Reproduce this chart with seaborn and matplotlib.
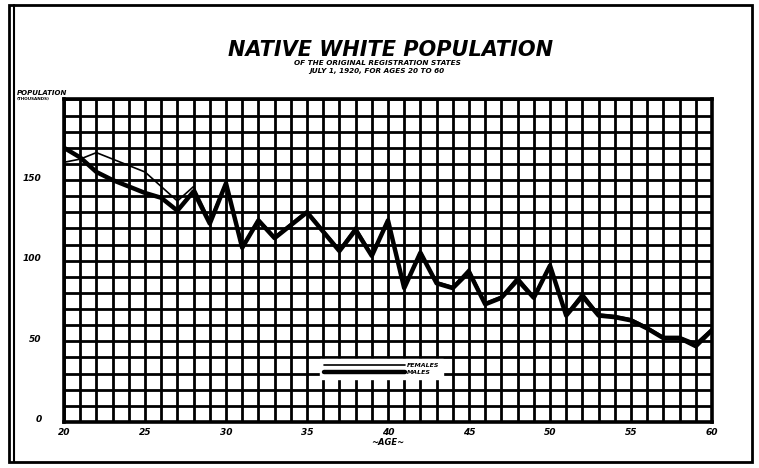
import numpy as np
import pandas as pd
import matplotlib
matplotlib.use("Agg")
import matplotlib.pyplot as plt
import matplotlib.transforms as mtransforms
import seaborn as sns
from matplotlib.patches import Rectangle
from matplotlib.lines import Line2D

# population in thousands, by single year of age
ages = list(range(20, 61))
males = [170, 164, 155, 150, 146, 142, 139, 131, 143, 123,
         148, 108, 125, 114, 122, 130, 118, 106, 119, 103,
         125, 83, 105, 86, 83, 93, 73, 77, 88, 77,
         97, 66, 78, 66, 65, 63, 58, 52, 52, 47, 57]
females = [161, 163, 167, 163, 159, 155, 146, 137, 146, 125,
           149, 109, 126, 115, 123, 131, 119, 107, 121, 104,
           126, 84, 106, 87, 84, 95, 74, 78, 90, 78,
           98, 67, 80, 67, 66, 64, 59, 53, 53, 49, 58]
y_labels = [0, 50, 100, 150]
x_labels = [20, 25, 30, 35, 40, 45, 50, 55, 60]

df = pd.DataFrame({"age": ages, "MALES": males, "FEMALES": females})

sns.set_style("white")
plt.rcParams["font.family"] = ["DejaVu Sans"]
plt.rcParams["text.color"] = "black"
plt.rcParams["axes.labelcolor"] = "black"
plt.rcParams["xtick.color"] = "black"
plt.rcParams["ytick.color"] = "black"

fig = plt.figure(figsize=(7.59, 4.68), dpi=100)
ax = fig.add_axes([64 / 759, 1 - 422 / 468, 648 / 759, 322.6 / 468])

sns.lineplot(data=df, x="age", y="MALES", ax=ax, color="black", linewidth=3.2)
sns.lineplot(data=df, x="age", y="FEMALES", ax=ax, color="black", linewidth=1.2)

ax.set_xlim(20, 60)
ax.set_ylim(0, 200)
ax.set_xticks(x_labels)
ax.set_xticks(np.arange(20, 61, 1), minor=True)
ax.set_yticks(y_labels)
ax.set_yticks(np.arange(0, 201, 10), minor=True)
ax.grid(which="both", color="black", linewidth=2.0)
ax.set_axisbelow(True)
for s in ax.spines.values():
    s.set_linewidth(2.6)
    s.set_color("black")
ax.tick_params(which="both", length=0)
ax.tick_params(axis="y", pad=16)
ax.tick_params(axis="x", pad=4)
ax.set_xticklabels([str(v) for v in x_labels], fontsize=6.5,
                   fontweight="bold", style="italic")
ax.set_yticklabels([str(v) for v in y_labels], fontsize=6.5,
                   fontweight="bold", style="italic")
# hand lettering sits a little above the grid lines
shift = mtransforms.ScaledTranslation(0, 3 / 100, fig.dpi_scale_trans)
for lab in ax.get_yticklabels():
    lab.set_transform(lab.get_transform() + shift)
ax.set_xlabel("~AGE~", fontsize=6, fontweight="bold", style="italic", labelpad=1)
ax.set_ylabel("")

handles = [Line2D([], [], color="black", linewidth=1.2),
           Line2D([], [], color="black", linewidth=3.2)]
leg = ax.legend(handles, ["FEMALES", "MALES"], loc="lower left",
                bbox_to_anchor=(0.39, 0.125), handlelength=13,
                prop={"size": 4.5, "weight": "bold", "style": "italic"},
                frameon=True, fancybox=False, facecolor="white",
                edgecolor="white", framealpha=1, labelspacing=0.2,
                borderpad=0.6, handletextpad=0.3)

fig.text(0.515, 0.893, "NATIVE WHITE POPULATION", ha="center", va="center",
         fontsize=15, fontweight="bold", style="italic")
fig.text(0.497, 0.866, "OF THE ORIGINAL REGISTRATION STATES", ha="center",
         va="center", fontsize=5.2, fontweight="bold", style="italic")
fig.text(0.497, 0.848, "JULY 1, 1920, FOR AGES 20 TO 60", ha="center",
         va="center", fontsize=5.2, fontweight="bold", style="italic")
fig.text(0.022, 0.801, "POPULATION", ha="left", va="center",
         fontsize=5, fontweight="bold", style="italic")
fig.text(0.022, 0.788, "(THOUSANDS)", ha="left", va="center",
         fontsize=3, fontweight="bold")

# scanned sheet border
fig.add_artist(Rectangle((9 / 759, 1 - 462 / 468), 743 / 759, 457 / 468,
                         transform=fig.transFigure, fill=False,
                         edgecolor="black", linewidth=2))
fig.add_artist(Line2D([14 / 759, 14 / 759], [1 - 462 / 468, 1 - 5 / 468],
                      transform=fig.transFigure, color="black", linewidth=1.5))

fig.savefig("out.png", dpi=100, facecolor="white")
